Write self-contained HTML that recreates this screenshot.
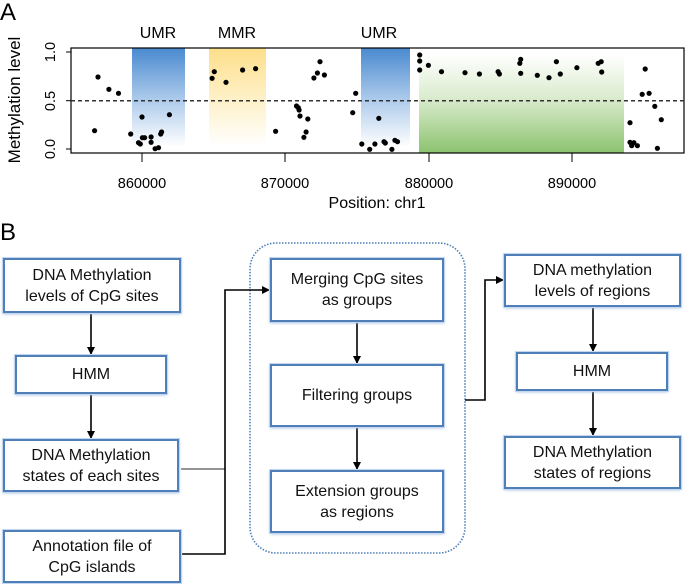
<!DOCTYPE html>
<html><head><meta charset="utf-8"><style>
html,body{margin:0;padding:0;background:#fff;}
body{width:685px;height:584px;overflow:hidden;position:relative;font-family:"Liberation Sans",sans-serif;}
.bx{position:absolute;box-sizing:border-box;border:2px solid #4f7fb8;box-shadow:0 0 0 1px #c5d7ee, 0 1px 3px #9fbbe0;background:#fff;display:flex;align-items:center;justify-content:center;text-align:center;font-size:16px;line-height:21px;color:#111;}
</style></head><body>
<svg width="685" height="584" style="position:absolute;left:0;top:0" xmlns="http://www.w3.org/2000/svg">
<defs>
<linearGradient id="gb" x1="0" y1="0" x2="0" y2="1"><stop offset="0" stop-color="#4a8ad0"/><stop offset="0.5" stop-color="#a9c8ea"/><stop offset="1" stop-color="#ffffff"/></linearGradient>
<linearGradient id="gy" x1="0" y1="0" x2="0" y2="1"><stop offset="0" stop-color="#fddf8a"/><stop offset="0.5" stop-color="#fef0c6"/><stop offset="1" stop-color="#ffffff"/></linearGradient>
<linearGradient id="gg" x1="0" y1="0" x2="0" y2="1"><stop offset="0" stop-color="#ffffff"/><stop offset="0.45" stop-color="#d9ebcc"/><stop offset="1" stop-color="#8cc36f"/></linearGradient>
<marker id="ar" markerWidth="8" markerHeight="8" refX="7" refY="4" orient="auto" markerUnits="userSpaceOnUse"><path d="M0,0 L8,4 L0,8 z" fill="#000"/></marker>
</defs>
<text x="0" y="20" font-size="24" font-family="Liberation Sans">A</text>
<text x="158" y="38" font-size="16" text-anchor="middle">UMR</text>
<text x="237" y="38" font-size="16" text-anchor="middle">MMR</text>
<text x="379" y="38" font-size="16" text-anchor="middle">UMR</text>
<rect x="132" y="48" width="53" height="99" fill="url(#gb)"/>
<rect x="209" y="48" width="57" height="99" fill="url(#gy)"/>
<rect x="361" y="48" width="49" height="99" fill="url(#gb)"/>
<rect x="419" y="55" width="205" height="98" fill="url(#gg)"/>
<rect x="71" y="48" width="613" height="105" fill="none" stroke="#000" stroke-width="1.2"/>
<line x1="71" y1="100.7" x2="684" y2="100.7" stroke="#333" stroke-width="1.5" stroke-dasharray="4,3"/>
<g stroke="#000" stroke-width="1">
<line x1="66" y1="52" x2="71" y2="52"/><line x1="66" y1="100.7" x2="71" y2="100.7"/><line x1="66" y1="149" x2="71" y2="149"/>
<line x1="142" y1="153" x2="142" y2="162"/><line x1="285" y1="153" x2="285" y2="162"/><line x1="429" y1="153" x2="429" y2="162"/><line x1="572" y1="153" x2="572" y2="162"/>
</g>
<g font-size="14.5" text-anchor="middle">
<text x="142" y="188">860000</text><text x="285" y="188">870000</text><text x="429" y="188">880000</text><text x="572" y="188">890000</text>
<text x="377" y="208" font-size="16">Position: chr1</text>
<text transform="translate(55,52) rotate(-90)">1.0</text>
<text transform="translate(55,101) rotate(-90)">0.5</text>
<text transform="translate(55,149) rotate(-90)">0.0</text>
<text transform="translate(20,100) rotate(-90)" font-size="17">Methylation level</text>
</g>
<g id="dots" fill="#000"></g>
<text x="0" y="240" font-size="24">B</text>
<rect x="250" y="243" width="215" height="310" rx="26" fill="none" stroke="#4f7fb8" stroke-width="1.6" stroke-dasharray="1.5,1.5"/>
<g stroke="#000" stroke-width="1.6" fill="none">
<line x1="91" y1="313" x2="91" y2="354" marker-end="url(#ar)"/>
<line x1="91" y1="394" x2="91" y2="438" marker-end="url(#ar)"/>
<polyline points="181,469 225,469" stroke="#555" stroke-width="1.2"/>
<polyline points="181,554 225,554 225,290 269,290" marker-end="url(#ar)"/>
<line x1="357" y1="322" x2="357" y2="363" marker-end="url(#ar)"/>
<line x1="357" y1="427" x2="357" y2="469" marker-end="url(#ar)"/>
<polyline points="465,400 485,400 485,280 503,280" marker-end="url(#ar)"/>
<line x1="593" y1="307" x2="593" y2="351" marker-end="url(#ar)"/>
<line x1="593" y1="391" x2="593" y2="435" marker-end="url(#ar)"/>
</g>
</svg>
<div class="bx" style="left:3px;top:258px;width:178px;height:55px">DNA Methylation<br>levels of CpG sites</div>
<div class="bx" style="left:15px;top:355px;width:152px;height:39px">HMM</div>
<div class="bx" style="left:3px;top:439px;width:176px;height:53px">DNA Methylation<br>states of each sites</div>
<div class="bx" style="left:3px;top:530px;width:178px;height:53px">Annotation file of<br>CpG islands</div>
<div class="bx" style="left:270px;top:258px;width:174px;height:64px">Merging CpG sites<br>as groups</div>
<div class="bx" style="left:270px;top:364px;width:174px;height:63px">Filtering groups</div>
<div class="bx" style="left:270px;top:470px;width:174px;height:63px">Extension groups<br>as regions</div>
<div class="bx" style="left:504px;top:254px;width:177px;height:53px">DNA methylation<br>levels of regions</div>
<div class="bx" style="left:516px;top:352px;width:152px;height:39px">HMM</div>
<div class="bx" style="left:504px;top:436px;width:177px;height:53px">DNA Methylation<br>states of regions</div>
<script>
var d=[[213,392],[221,231],[246,268],[268,280],[296,402],[314,428],[318,432],[322,351],[323,413],[328,413],[343,411],[343,427],[352,446],[360,443],[365,402],[367,396],[385,344],
[483,235],[488,215],[515,247],[553,210],[583,206],
[629,394],[677,318],[681,323],[683,330],[685,348],[694,412],[699,396],[703,357],[717,234],[725,219],[731,185],[741,225],
[806,338],[813,280],[827,432],[845,448],[857,432],[866,355],[878,425],[881,429],[896,448],[903,421],[909,425],
[960,165],[960,183],[960,210],[980,196],[1010,215],[1064,218],[1097,222],[1140,215],[1143,222],[1190,190],[1192,178],[1192,220],[1230,226],[1257,233],[1274,185],[1283,222],[1321,203],[1370,190],[1377,185],[1378,216],
[1443,368],[1443,427],[1447,437],[1452,428],[1460,437],[1471,283],[1478,207],[1487,280],[1500,319],[1506,445],[1515,359]];
var g=document.getElementById('dots'),s='';
d.forEach(function(p){s+='<circle cx="'+(142+(p[0]-322)*0.4353).toFixed(1)+'" cy="'+(p[1]/3).toFixed(1)+'" r="2.6"/>';});
g.innerHTML=s;
</script>
</body></html>
